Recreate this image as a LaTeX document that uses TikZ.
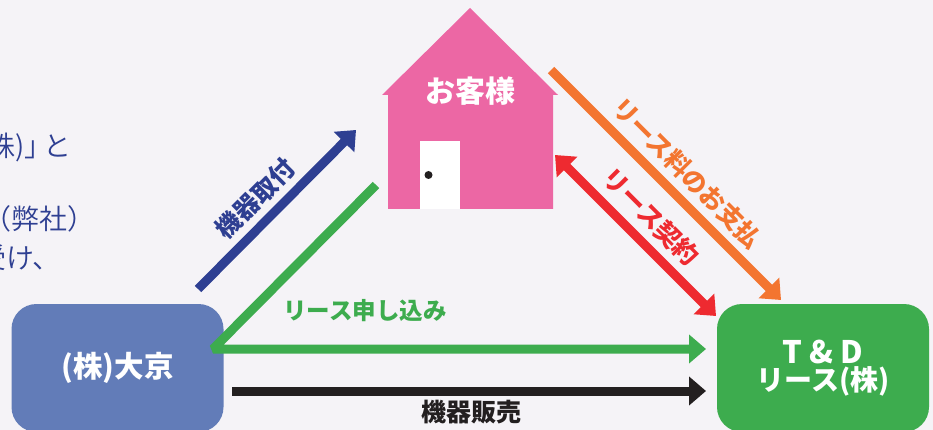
\documentclass[tikz,border=0pt]{standalone}
\usepackage{fontspec}
\setmainfont{Noto Sans CJK JP}
\newfontfamily\lightfont{Noto Sans CJK JP DemiLight}
\usetikzlibrary{arrows.meta}
\definecolor{bgcol}{HTML}{F5F3F7}
\definecolor{pinkcol}{HTML}{EC67A4}
\definecolor{bluecol}{HTML}{627CB8}
\definecolor{greencol}{HTML}{3DAC4E}
\definecolor{orangecol}{HTML}{F37530}
\definecolor{redcol}{HTML}{EE2A30}
\definecolor{navycol}{HTML}{2E3F92}
\definecolor{blackcol}{HTML}{231F20}
\begin{document}
\begin{tikzpicture}[x=1pt,y=-1pt]
        \tikzstyle{company}=[rounded corners=25pt,minimum width=212pt,minimum height=128pt,inner sep=0pt,text=white,font=\fontsize{28}{27}\selectfont\bfseries,align=center]
        \tikzstyle{toplabel}=[inner sep=0pt,font=\fontsize{25}{25}\selectfont\bfseries]
        \tikzstyle{sidetext}=[inner sep=0pt,anchor=east,text=navycol,font=\lightfont\fontsize{28}{28}\selectfont]
        \tikzstyle{flow}=[line width=9pt,-{Triangle[length=17pt,width=28pt]}]
        \useasboundingbox (0,0) rectangle (933,430);
        \clip (0,0) rectangle (933,430);
        \fill[bgcol] (0,0) rectangle (933,430);
        % text cut off at the left
        \node[sidetext] (textone) at (72,147) {(株)」\kern-9pt と};
        \node[sidetext] (texttwo) at (96,219) {（弊社）};
        \node[sidetext] (textthree) at (61,258) {受け、};
        % house
        \fill[pinkcol] (470,8) -- (558,95) -- (553,95) -- (553,209) -- (388,209) -- (388,95) -- (382,95) -- cycle;
        \fill[white] (420,141) rectangle (460,209);
        \fill[blackcol] (428.5,175) circle (4pt);
        \node[toplabel,text=white,font=\fontsize{30}{30}\selectfont\bfseries] (customer) at (470,91) {お客様};
        % companies
        \node[company,fill=bluecol,font=\fontsize{29.5}{30}\selectfont\bfseries] (okyo) at (117.5,368) {(株)大京};
        \node[company,fill=greencol] (tdlease) at (823,368) {{\fontsize{31}{27}\selectfont T \& D}\\リース(株)};
        % free ends
        \coordinate (navystart) at (198,289);
        \coordinate (navyend) at (356,130);
        \coordinate (greenstart) at (376,185);
        \coordinate (greencorner) at (213,349);
        \coordinate (greenend) at (706,349);
        \coordinate (blackstart) at (232,391);
        \coordinate (blackend) at (706,391);
        \coordinate (redstart) at (555,155);
        \coordinate (redend) at (716,316);
        \coordinate (orangestart) at (551,70);
        \coordinate (orangeend) at (781,300);
        % arrows
        \draw[flow,navycol] (navystart) -- (navyend);
        \draw[flow,greencol,line join=bevel] (greenstart) -- (greencorner) -- (greenend);
        \draw[flow,blackcol] (blackstart) -- (blackend);
        \draw[flow,redcol,{Triangle[length=17pt,width=28pt]}-{Triangle[length=17pt,width=28pt]}] (redstart) -- (redend);
        \draw[flow,orangecol] (orangestart) -- (orangeend);
        % labels
        \node[toplabel,text=navycol,rotate=45] (mountlabel) at (255.5,198.5) {機器取付};
        \node[toplabel,text=greencol,font=\fontsize{23.5}{24}\selectfont\bfseries] (applylabel) at (365,311) {リース申し込み};
        \node[toplabel,text=blackcol] (salelabel) at (471,412) {機器販売};
        \node[toplabel,text=redcol,rotate=-45] (contractlabel) at (651,217) {リース契約};
        \node[toplabel,text=orangecol,rotate=-45] (paylabel) at (687,173) {リース料のお支払};
\end{tikzpicture}
\end{document}
